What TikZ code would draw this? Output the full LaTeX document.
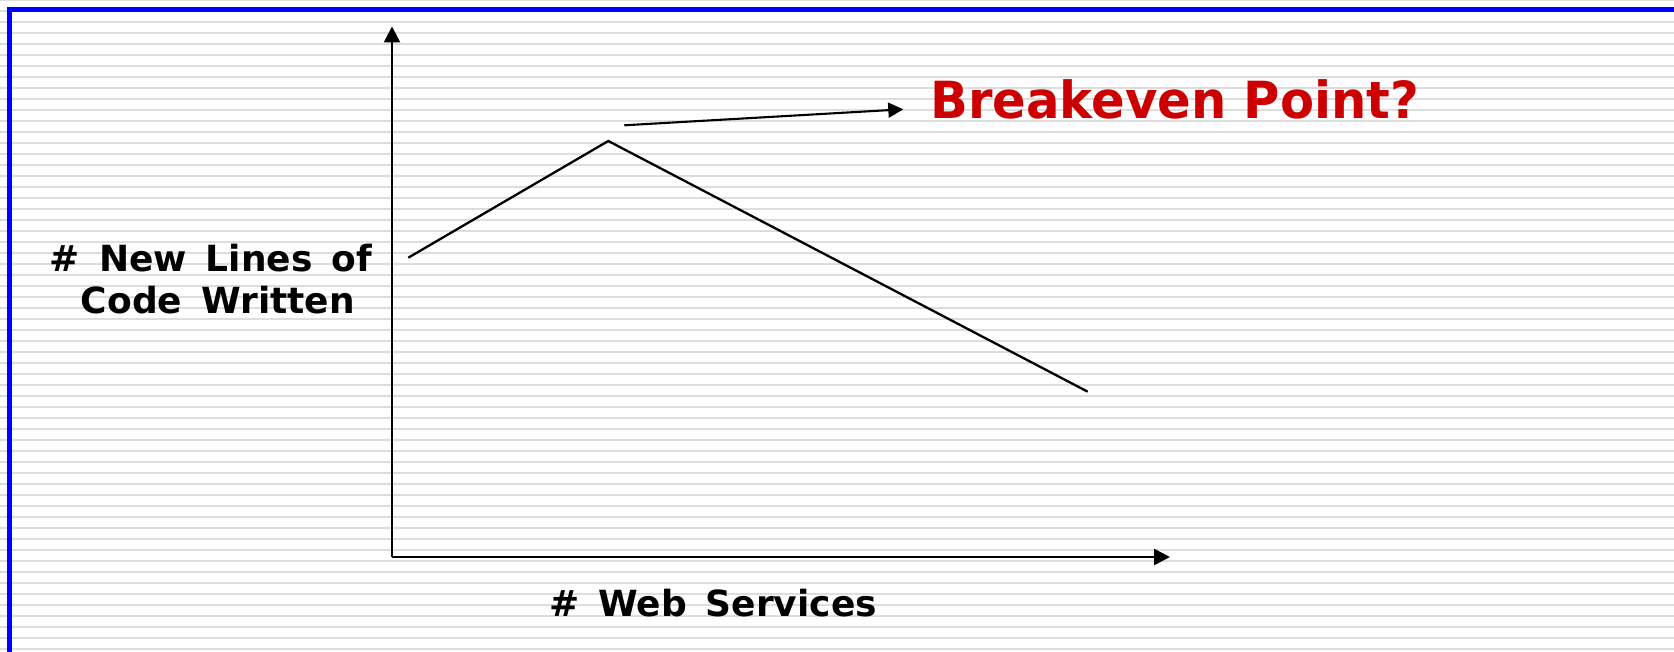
\documentclass[tikz,border=0pt]{standalone}
\usepackage{fontspec}
\setmainfont{DejaVu Sans}
\newfontfamily\widelabelfont{DejaVu Sans}[WordSpace=1.52]
\newfontfamily\calloutfont{DejaVu Sans}[FakeStretch=0.97]
\usetikzlibrary{arrows.meta}
\definecolor{stripegray}{RGB}{221,221,221}
\definecolor{frameblue}{RGB}{0,0,255}
\definecolor{titlered}{RGB}{204,0,0}
\tikzset{
  axisline/.style={line width=2.7pt, -{Triangle[length=16pt,width=16pt]}},
  curveline/.style={line width=2.3pt, line join=miter},
  pointer/.style={line width=2.1pt, -{Triangle[length=15pt,width=15pt]}},
  axislabel/.style={font=\widelabelfont\bfseries\fontsize{36}{41.7}\selectfont,
    inner sep=0pt, align=center},
  calllabel/.style={font=\calloutfont\bfseries\fontsize{51.2}{60}\selectfont, text=titlered, inner sep=0pt}
}
\begin{document}
\begin{tikzpicture}[x=1pt,y=-1pt]
  \useasboundingbox (0,0) rectangle (1674,652);
  \clip (0,0) rectangle (1674,652);
  % ruled background
  \fill[white] (0,0) rectangle (1674,652);
  \foreach \k in {0,...,59}
    \fill[stripegray] (0,{11*\k-1.3}) rectangle (1674,{11*\k+0.7});
  % frame (left and top edges)
  \draw[frameblue, line width=5pt] (9.8,700) |- (1700,9.2);

  % axes
  \coordinate (O) at (392,557);
  \coordinate (ytop) at (392,26.5);
  \coordinate (xend) at (1170,557);
  \draw[axisline] (O) -- (ytop);
  \draw[axisline] (O) -- (xend);

  % curve
  \coordinate (p1) at (408.3,257.7);
  \coordinate (p2) at (608.3,141);
  \coordinate (p3) at (1087.7,391.7);
  \draw[curveline] (p1) -- (p2) -- (p3);

  % labels
  \node[calllabel, anchor=base west] (be) at (930,119) {Breakeven Point?};
  \coordinate (a1) at (624.3,125.3);
  \coordinate (a2) at (903.3,109.3);
  \draw[pointer] (a1) -- (a2);

  \node[axislabel, anchor=base] (ylab) at (211,313.3) {\# New Lines of\\\hspace*{14pt}Code Written};
  \node[axislabel, anchor=base] (xlab) at (713,616.7) {\# Web Services};
\end{tikzpicture}
\end{document}
